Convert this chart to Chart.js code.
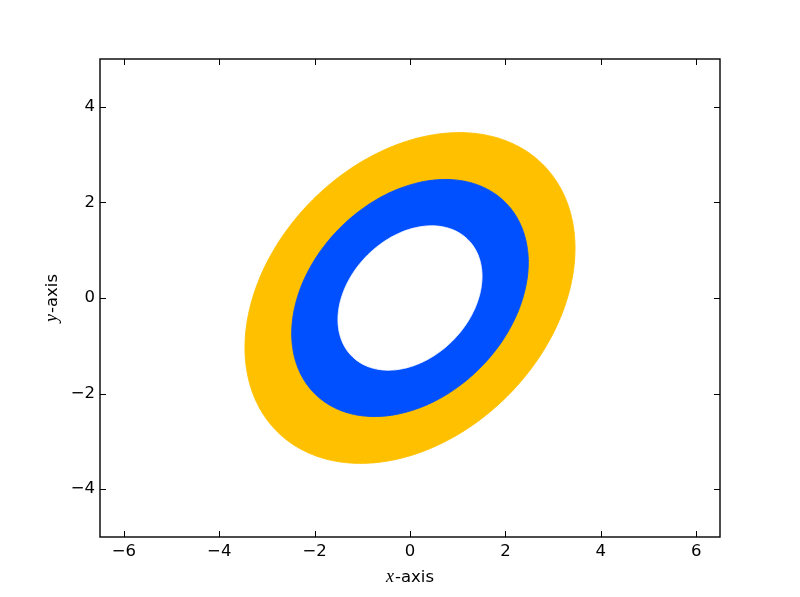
<!doctype html>
<html lang="en">
<head>
<meta charset="utf-8">
<title>Confidence ellipses</title>
<script src="https://cdn.jsdelivr.net/npm/chart.js@4.4.1/dist/chart.umd.min.js"></script>
<style>
  html,body{margin:0;background:#fff}
  canvas{display:block}
</style>
</head>
<body>
<canvas id="chart" width="800" height="597"></canvas>
<script>
  // Axis ranges and tick labels
  const xRange = [-6.5, 6.5];
  const yRange = [-5, 5];
  const xTicks = [-6, -4, -2, 0, 2, 4, 6];
  const yTicks = [-4, -2, 0, 2, 4];

  // Filled contour bands of a correlated 2-D normal (outer to inner)
  const bandNames = ["99.7%", "95%", "68%"];
  const bandRadii = [3.46, 2.48, 1.51];          // Mahalanobis radius of each contour
  const bandColors = ["#ffc000", "#0050ff", "#ffffff"];
  const sigma = [1.0, 1.0];                       // std dev of x and y
  const rho = 0.30;                               // correlation
  const center = [0, 0];

  const STEPS = 240;
  const FONT = "'DejaVu Sans', sans-serif";
  const fmt = (v) => (v < 0 ? "\u2212" + Math.abs(v) : String(v));

  // outline of one contour, closed loop
  function outline(r) {
    const pts = [];
    const k = Math.sqrt(1 - rho * rho);
    for (let i = 0; i <= STEPS; i++) {
      const t = (i / STEPS) * Math.PI * 2;
      const c = Math.cos(t), s = Math.sin(t);
      pts.push({
        x: center[0] + sigma[0] * r * c,
        y: center[1] + sigma[1] * r * (rho * c + k * s),
      });
    }
    return pts;
  }

  // a tiny tension keeps Chart.js off its per-pixel "fast path", which chops vertical edges
  const datasets = bandRadii.map((r, i) => ({
    label: bandNames[i],
    data: outline(r),
    showLine: true,
    fill: "shape",
    backgroundColor: bandColors[i],
    borderColor: bandColors[i],
    borderWidth: 1,
    borderJoinStyle: "round",
    pointRadius: 0,
    tension: 0.01,
    order: bandRadii.length - i,
  }));

  // matplotlib-style frame: box, inward ticks on all four sides, mixed-font axis titles
  const frame = {
    id: "frame",
    afterDraw(chart) {
      const { ctx, chartArea: a, scales: { x, y } } = chart;
      ctx.save();
      ctx.strokeStyle = "#000";
      ctx.lineWidth = 1;
      ctx.beginPath();
      xTicks.forEach((v) => {
        const px = Math.round(x.getPixelForValue(v)) + 0.5;
        ctx.moveTo(px, a.bottom); ctx.lineTo(px, a.bottom - 6);
        ctx.moveTo(px, a.top); ctx.lineTo(px, a.top + 6);
      });
      yTicks.forEach((v) => {
        const py = Math.round(y.getPixelForValue(v)) + 0.5;
        ctx.moveTo(a.left, py); ctx.lineTo(a.left + 6, py);
        ctx.moveTo(a.right, py); ctx.lineTo(a.right - 6, py);
      });
      ctx.stroke();
      ctx.lineWidth = 1.4;
      ctx.strokeRect(a.left, a.top, a.right - a.left, a.bottom - a.top);

      const title = (letter, cx, cy, rot) => {
        ctx.save();
        ctx.translate(cx, cy);
        ctx.rotate(rot);
        ctx.fillStyle = "#000";
        ctx.textBaseline = "alphabetic";
        ctx.font = "italic 18px 'Liberation Serif', serif";
        const w1 = ctx.measureText(letter).width;
        ctx.font = "16.5px " + FONT;
        const w2 = ctx.measureText("-axis").width;
        let px = -(w1 + w2 + 1) / 2;
        ctx.font = "italic 18px 'Liberation Serif', serif";
        ctx.fillText(letter, px, 0);
        ctx.font = "16.5px " + FONT;
        ctx.fillText("-axis", px + w1 + 1, 0);
        ctx.restore();
      };
      title("x", (a.left + a.right) / 2, 582, 0);
      title("y", 57, (a.top + a.bottom) / 2, -Math.PI / 2);
      ctx.restore();
    },
  };

  const tickFont = { family: FONT, size: 16.5 };

  new Chart(document.getElementById("chart"), {
    type: "scatter",
    data: { datasets },
    options: {
      responsive: false,
      animation: false,
      events: [],
      layout: { padding: { top: 59, right: 80, left: 0, bottom: 0 } },
      plugins: { legend: { display: false }, tooltip: { enabled: false } },
      scales: {
        x: {
          type: "linear",
          min: xRange[0],
          max: xRange[1],
          afterBuildTicks: (s) => { s.ticks = xTicks.map((v) => ({ value: v })); },
          afterFit: (s) => { s.height = 60; },
          grid: { display: false, drawTicks: false },
          border: { display: false },
          ticks: { color: "#000", font: tickFont, padding: 5, maxRotation: 0, autoSkip: false, callback: fmt },
        },
        y: {
          type: "linear",
          min: yRange[0],
          max: yRange[1],
          afterBuildTicks: (s) => { s.ticks = yTicks.map((v) => ({ value: v })); },
          afterFit: (s) => { s.width = 100; },
          grid: { display: false, drawTicks: false },
          border: { display: false },
          ticks: { color: "#000", font: tickFont, padding: 5, autoSkip: false, callback: fmt },
        },
      },
    },
    plugins: [frame],
  });
</script>
</body>
</html>
